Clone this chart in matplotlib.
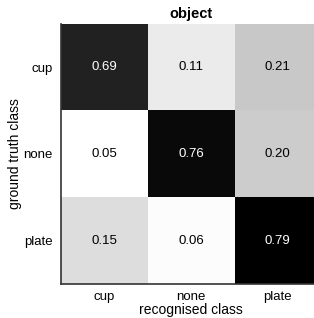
import matplotlib
matplotlib.use('Agg')
import matplotlib.pyplot as plt
import numpy as np

classes = ['cup', 'none', 'plate']
row_cup = [0.69, 0.11, 0.21]
row_none = [0.05, 0.76, 0.20]
row_plate = [0.15, 0.06, 0.79]

plt.rcParams['font.family'] = ['Liberation Sans', 'DejaVu Sans']

conf = np.array([row_cup, row_none, row_plate])

fig = plt.figure(figsize=(3.14, 3.18), dpi=100)
ax = fig.add_axes([61 / 314, 34 / 318, 260 / 314, 260 / 318])
ax.imshow(conf, cmap='gray_r', vmin=conf.min(), vmax=conf.max(),
          aspect='auto', interpolation='nearest')

for i in range(3):
    for j in range(3):
        v = conf[i, j]
        col = 'white' if v > 0.5 else 'black'
        ax.text(j, i, '%.2f' % v, ha='center', va='center', color=col, fontsize=9.5)

ax.set_xticks(range(3))
ax.set_yticks(range(3))
ax.set_xticklabels(classes, fontsize=9.5)
ax.set_yticklabels(classes, fontsize=9.5)
ax.tick_params(axis='x', length=0, pad=5)
ax.tick_params(axis='y', length=0, pad=6)
ax.set_xlabel('recognised class', fontsize=10, labelpad=0)
ax.set_ylabel('ground truth class', fontsize=10)
ax.yaxis.set_label_coords(-0.15, 0.5)
ax.set_title('object', fontsize=10.5, fontweight='bold', pad=4)

for s in ['top', 'right']:
    ax.spines[s].set_visible(False)
for s in ['left', 'bottom']:
    ax.spines[s].set_color('#333333')
    ax.spines[s].set_linewidth(1.2)

fig.savefig('out.png', dpi=100)
